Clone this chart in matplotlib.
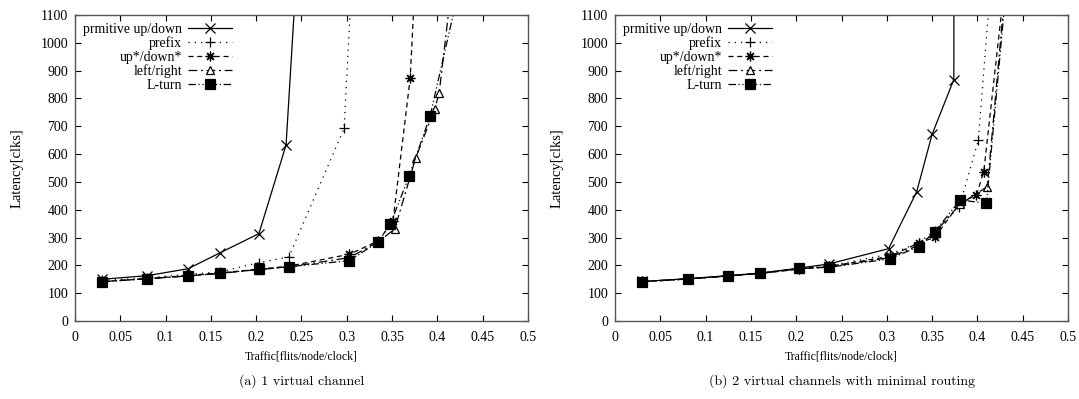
# 两种虚通道配置下各路由算法的 延迟-流量 曲线 (gnuplot 风格复刻)
import matplotlib
matplotlib.use('Agg')
import matplotlib.pyplot as plt

plt.rcParams['font.family'] = ['Liberation Serif', 'DejaVu Serif']
plt.rcParams['font.size'] = 10

LABELS = ['prmitive up/down', 'prefix', 'up*/down*', 'left/right', 'L-turn']

# ---- (a) 1 virtual channel ----
a_prim_x = [0.03, 0.08, 0.125, 0.16, 0.203, 0.233, 0.26]
a_prim_y = [150, 163, 188, 245, 314, 633, 2080]
a_pref_x = [0.03, 0.08, 0.125, 0.16, 0.203, 0.236, 0.297, 0.31]
a_pref_y = [146, 155, 168, 176, 210, 230, 692, 1500]
a_updn_x = [0.03, 0.08, 0.125, 0.16, 0.203, 0.236, 0.303, 0.335, 0.351, 0.370, 0.38]
a_updn_y = [142, 152, 164, 173, 186, 197, 240, 288, 360, 873, 1520]
a_lr_x = [0.03, 0.08, 0.125, 0.16, 0.203, 0.236, 0.303, 0.335, 0.353, 0.376, 0.397, 0.402, 0.42]
a_lr_y = [141, 152, 162, 171, 185, 194, 228, 285, 331, 585, 762, 820, 1320]
a_lt_x = [0.03, 0.08, 0.125, 0.16, 0.203, 0.236, 0.303, 0.335, 0.348, 0.369, 0.392, 0.43]
a_lt_y = [141, 152, 162, 171, 186, 195, 217, 285, 348, 522, 737, 1280]

# ---- (b) 2 virtual channels with minimal routing ----
b_prim_x = [0.03, 0.08, 0.125, 0.16, 0.203, 0.236, 0.302, 0.333, 0.35, 0.374, 0.3745]
b_prim_y = [142, 152, 163, 172, 190, 205, 260, 465, 671, 868, 3000]
b_pref_x = [0.03, 0.08, 0.125, 0.16, 0.203, 0.236, 0.303, 0.335, 0.353, 0.38, 0.401, 0.42]
b_pref_y = [142, 151, 163, 172, 189, 198, 240, 280, 325, 410, 650, 1430]
b_updn_x = [0.03, 0.08, 0.125, 0.16, 0.203, 0.236, 0.303, 0.335, 0.353, 0.381, 0.399, 0.407, 0.44]
b_updn_y = [142, 151, 162, 171, 186, 196, 232, 280, 301, 425, 453, 537, 1500]
b_lr_x = [0.03, 0.08, 0.125, 0.16, 0.203, 0.236, 0.303, 0.335, 0.353, 0.381, 0.411, 0.44]
b_lr_y = [141, 151, 162, 171, 188, 194, 228, 272, 318, 420, 483, 1530]
b_lt_x = [0.03, 0.08, 0.125, 0.16, 0.203, 0.236, 0.303, 0.335, 0.353, 0.381, 0.41, 0.44]
b_lt_y = [141, 151, 162, 171, 189, 193, 223, 267, 321, 435, 423, 1490]

STYLES = [
    dict(ls='-', marker='x', ms=6.5, mfc='none'),
    dict(ls=(0, (1, 4)), marker='+', ms=7, mfc='none'),
    dict(ls=(0, (4, 3)), marker=(8, 2, 0), ms=7, mfc='none'),
    dict(ls=(0, (7, 3, 1.5, 3)), marker='^', ms=6, mfc='white'),
    dict(ls=(0, (6, 2, 1, 2, 1, 2)), marker='s', ms=6.5, mfc='black'),
]

fig = plt.figure(figsize=(10.79, 3.99), dpi=100)
ax_a = fig.add_axes([0.0695, 0.1955, 0.4198, 0.767])
ax_b = fig.add_axes([0.570, 0.1955, 0.4198, 0.767])

panels = [
    (ax_a, [(a_prim_x, a_prim_y), (a_pref_x, a_pref_y), (a_updn_x, a_updn_y),
            (a_lr_x, a_lr_y), (a_lt_x, a_lt_y)], '(a) 1 virtual channel'),
    (ax_b, [(b_prim_x, b_prim_y), (b_pref_x, b_pref_y), (b_updn_x, b_updn_y),
            (b_lr_x, b_lr_y), (b_lt_x, b_lt_y)], '(b) 2 virtual channels with minimal routing'),
]

for ax, series, caption in panels:
    for (xs, ys), lab, st in zip(series, LABELS, STYLES):
        ax.plot(xs, ys, color='black', lw=0.9, mec='black', mew=0.9, label=lab, **st)
    ax.set_xlim(0, 0.5)
    ax.set_ylim(0, 1100)
    ax.set_xticks([0, 0.05, 0.1, 0.15, 0.2, 0.25, 0.3, 0.35, 0.4, 0.45, 0.5])
    ax.set_xticklabels(['0', '0.05', '0.1', '0.15', '0.2', '0.25', '0.3', '0.35', '0.4', '0.45', '0.5'])
    ax.set_yticks(range(0, 1101, 100))
    ax.tick_params(direction='in', top=True, right=True, length=4, width=0.8, labelsize=10)
    ax.tick_params(axis='x', pad=7)
    ax.tick_params(axis='y', pad=5)
    for s in ax.spines.values():
        s.set_color('#555555'); s.set_linewidth(1.0)
    ax.set_xlabel('Traffic[flits/node/clock]', fontsize=8.5)
    ax.xaxis.set_label_coords(0.5, -0.098)
    ax.set_ylabel('Latency[clks]', fontsize=10.5, va='center')
    ax.yaxis.set_label_coords(-0.127, 0.5)
    ax.legend(loc='upper right', bbox_to_anchor=(0.353, 0.984), markerfirst=False, frameon=False,
              handlelength=3.2, fontsize=10, labelspacing=0.05, borderaxespad=0.0,
              handletextpad=0.4, borderpad=0.2)
    ax.text(0.5, -0.196, caption, transform=ax.transAxes, ha='center', va='center',
            fontsize=10, family='cmr10')

fig.savefig('out.png', dpi=100, facecolor='white')
